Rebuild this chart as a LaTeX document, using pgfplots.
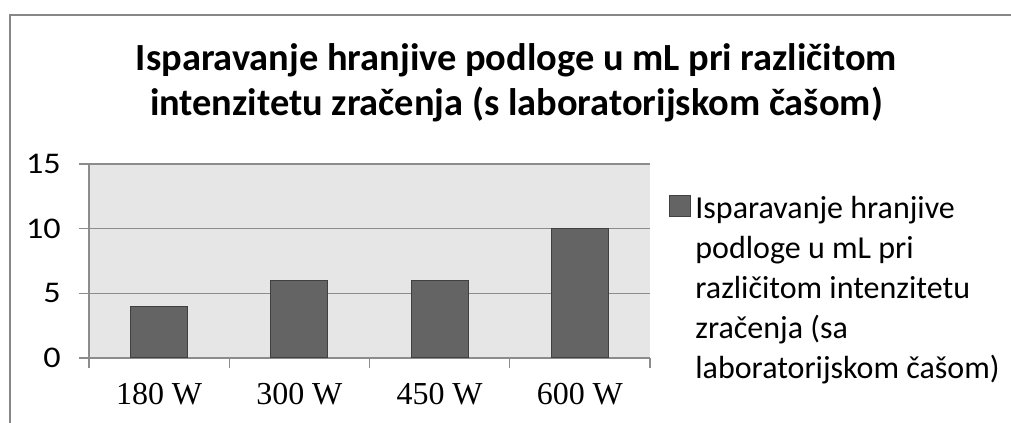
\documentclass[border=0pt]{standalone}
\usepackage{fontspec}
\setmainfont{Carlito}
\newfontfamily\timesf{Liberation Serif}
\newfontfamily\widef{Carlito}[FakeStretch=1.14]
\usepackage{pgfplots}
\pgfplotsset{compat=1.18}
\definecolor{bgc}{HTML}{E6E6E6}
\definecolor{gridc}{HTML}{8C8C8C}
\definecolor{barc}{HTML}{646464}
\definecolor{barb}{HTML}{404040}
\definecolor{framec}{HTML}{878787}
\begin{document}
\begin{tikzpicture}[x=0.75pt,y=0.75pt]
\useasboundingbox (-89,-65) rectangle (922,358);
\draw[framec, line width=0.9pt] (-79,-65) -- (-79,343) -- (922,343);
\node[anchor=base, font=\fontsize{28.8}{34}\selectfont\bfseries] at (427.5,287) {Isparavanje hranjive podloge u mL pri različitom};
\node[anchor=base, font=\fontsize{28.8}{34}\selectfont\bfseries] at (427.5,242) {intenzitetu zračenja (s laboratorijskom čašom)};
\begin{axis}[
  at={(0,0)}, anchor=south west,
  scale only axis, width=420.75pt, height=145.5pt,
  ybar, bar width=42.75pt, bar shift=0pt,
  xmin=-0.5, xmax=3.5, ymin=0, ymax=15,
  axis x line*=bottom, axis y line*=left,
  axis line style={gridc, line width=1.1pt},
  axis background/.style={fill=bgc},
  ymajorgrids, grid style={gridc, line width=1.1pt},
  ytick={0,5,10,15},
  xtick={0,1,2,3}, xticklabels={180 W,300 W,450 W,600 W},
  minor xtick={-0.5,0.5,1.5,2.5,3.5},
  tick align=outside,
  major tick length=7.5pt, minor tick length=7.5pt,
  x tick style={draw=none},
  minor x tick style={draw=gridc, line width=1.1pt},
  y tick style={draw=gridc, line width=1.1pt},
  /pgf/number format/assume math mode=true,
  yticklabel style={font=\fontsize{22.5}{27}\widef, inner sep=0pt, xshift=-13.5pt},
  xticklabel style={font=\fontsize{24}{28}\timesf, yshift=-8pt},
  legend style={at={(axis description cs:1.034,0.85)}, anchor=north west, draw=none, fill=none, inner sep=0pt,
    font=\fontsize{24}{30}\selectfont, cells={anchor=west, align=left}},
  legend image code/.code={\path[draw=none, fill=none] (0pt,-69.9pt) rectangle (17.25pt,69.9pt);
    \draw[fill=barc, draw=barb, line width=0.6pt] (0pt,54.1pt) rectangle (15.75pt,69.9pt);},
]
\addplot[fill=barc, draw=barb, line width=0.8pt] coordinates {(0,4) (1,6) (2,6) (3,10)};
\addlegendentry{Isparavanje hranjive\\podloge u mL pri\\različitom intenzitetu\\zračenja (sa\\laboratorijskom čašom)}
\end{axis}
\end{tikzpicture}
\end{document}
